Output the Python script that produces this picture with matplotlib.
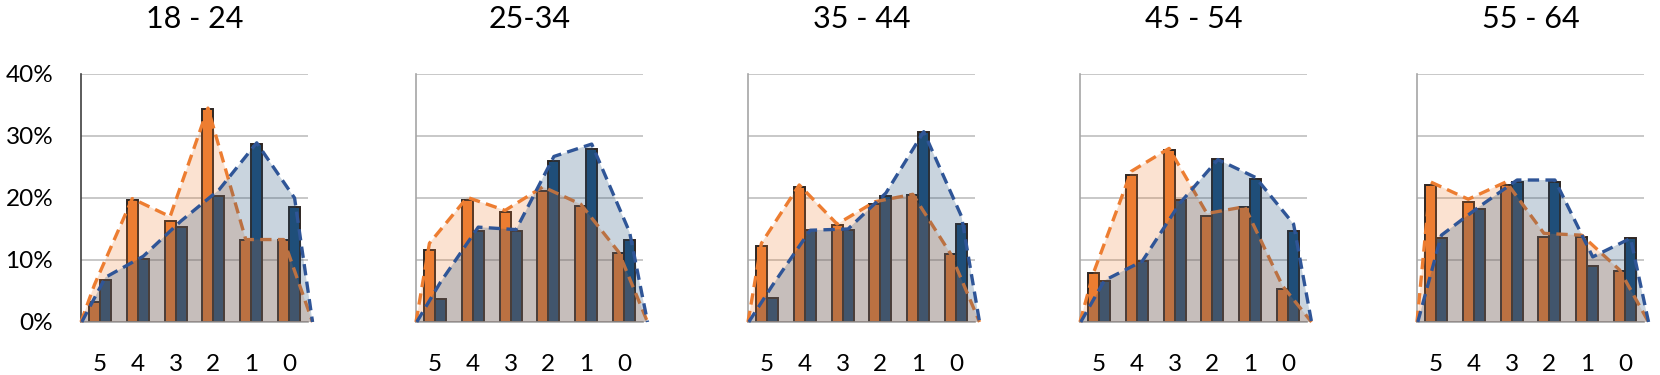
import matplotlib
matplotlib.use("Agg")
import matplotlib.pyplot as plt
import numpy as np

plt.rcParams['font.family'] = ['Lato', 'DejaVu Sans']

# ---- data ----
panel_titles = ["18 - 24", "25-34", "35 - 44", "45 - 54", "55 - 64"]
categories = ["5", "4", "3", "2", "1", "0"]

orange_bars = [
    [3.2, 19.7, 16.3, 34.4, 13.2, 13.2],
    [11.6, 19.7, 17.7, 21.2, 18.7, 11.1],
    [12.3, 21.8, 15.7, 19.1, 20.5, 10.9],
    [7.9, 23.7, 27.7, 17.1, 18.5, 5.3],
    [22.1, 19.4, 22.1, 13.7, 13.7, 8.3],
]
blue_bars = [
    [6.8, 10.1, 15.3, 20.3, 28.7, 18.6],
    [3.7, 14.7, 14.7, 26.0, 27.9, 13.3],
    [3.8, 14.8, 14.8, 20.4, 30.7, 15.8],
    [6.6, 9.9, 19.7, 26.3, 23.0, 14.7],
    [13.6, 18.2, 22.6, 22.6, 9.1, 13.6],
]
# outline (area) heights read from the dashed shapes, at each bar
orange_area = [
    [6.0, 19.9, 17.0, 34.5, 13.3, 13.3],
    [12.7, 20.1, 18.0, 21.8, 19.0, 11.3],
    [12.7, 22.1, 15.8, 19.4, 20.6, 11.0],
    [7.9, 24.3, 28.0, 17.5, 18.6, 5.8],
    [22.6, 19.8, 22.6, 14.3, 14.0, 8.4],
]
blue_area = [
    [7.2, 10.6, 16.3, 21.3, 28.9, 20.0],
    [6.4, 15.3, 14.9, 26.7, 28.7, 14.5],
    [5.9, 14.8, 15.0, 20.8, 30.7, 17.0],
    [6.7, 9.8, 19.2, 26.2, 23.3, 15.8],
    [14.0, 18.6, 22.9, 22.9, 10.5, 13.5],
]
yticks = [0, 10, 20, 30, 40]
ytick_labels = ["0%", "10%", "20%", "30%", "40%"]

# ---- style ----
ORANGE = "#ED7D31"
BLUE = "#1F4E79"
BLUE_LINE = "#2F5597"
EDGE = "#2E2622"

W, H = 1660, 375
fig = plt.figure(figsize=(W / 100, H / 100), dpi=100)

lefts = [81, 416, 748, 1080, 1417]
ax_w = 227
ax_top, ax_bot = 74, 322

x = np.arange(len(categories))
bw = 0.29
for i in range(5):
    ax = fig.add_axes([lefts[i] / W, 1 - ax_bot / H, ax_w / W, (ax_bot - ax_top) / H])
    ax.set_xlim(-0.5, 5.5)
    ax.set_ylim(0, 40)
    ax.bar(x - bw / 2, orange_bars[i], bw, color=ORANGE, edgecolor=EDGE, linewidth=1.4, zorder=2)
    ax.bar(x + bw / 2, blue_bars[i], bw, color=BLUE, edgecolor=EDGE, linewidth=1.4, zorder=2)

    ox = np.concatenate([[-0.5], x - bw / 2, [5.62]])
    oy = np.concatenate([[0], orange_area[i], [0]])
    bx = np.concatenate([[-0.48], x + bw / 2, [5.62]])
    by = np.concatenate([[0], blue_area[i], [0]])

    ax.fill(ox, oy, color=ORANGE, alpha=0.22, lw=0, zorder=3, clip_on=False)
    ax.plot(ox, oy, color=ORANGE, lw=2.4, ls=(0, (3.4, 1.9)), zorder=3.5, clip_on=False)
    ax.fill(bx, by, color=BLUE, alpha=0.24, lw=0, zorder=4, clip_on=False)
    ax.plot(bx, by, color=BLUE_LINE, lw=2.4, ls=(0, (3.4, 1.9)), zorder=4.5, clip_on=False)

    ax.set_yticks(yticks)
    ax.yaxis.grid(True, color="#BFBFBF", lw=1.2, zorder=0)
    ax.set_axisbelow(True)
    for s in ["top", "right"]:
        ax.spines[s].set_visible(False)
    ax.spines["bottom"].set_color("#A6A6A6")
    ax.spines["bottom"].set_linewidth(1.2)
    ax.spines["left"].set_color("#404040" if i == 0 else "#A6A6A6")
    ax.spines["left"].set_linewidth(1.2)
    ax.set_xticks(x)
    ax.set_xticklabels(categories, fontsize=17.5)
    ax.tick_params(axis="x", length=0, pad=23)
    if i == 0:
        ax.set_yticklabels(ytick_labels, fontsize=17.5)
        ax.tick_params(axis="y", length=0, pad=20)
    else:
        ax.tick_params(axis="y", length=0, labelleft=False)
    cx = (lefts[i] + ax_w / 2) / W
    fig.text(cx, 1 - 19 / H, panel_titles[i], ha="center", va="center", fontsize=22)

fig.savefig("out.png", dpi=100)
